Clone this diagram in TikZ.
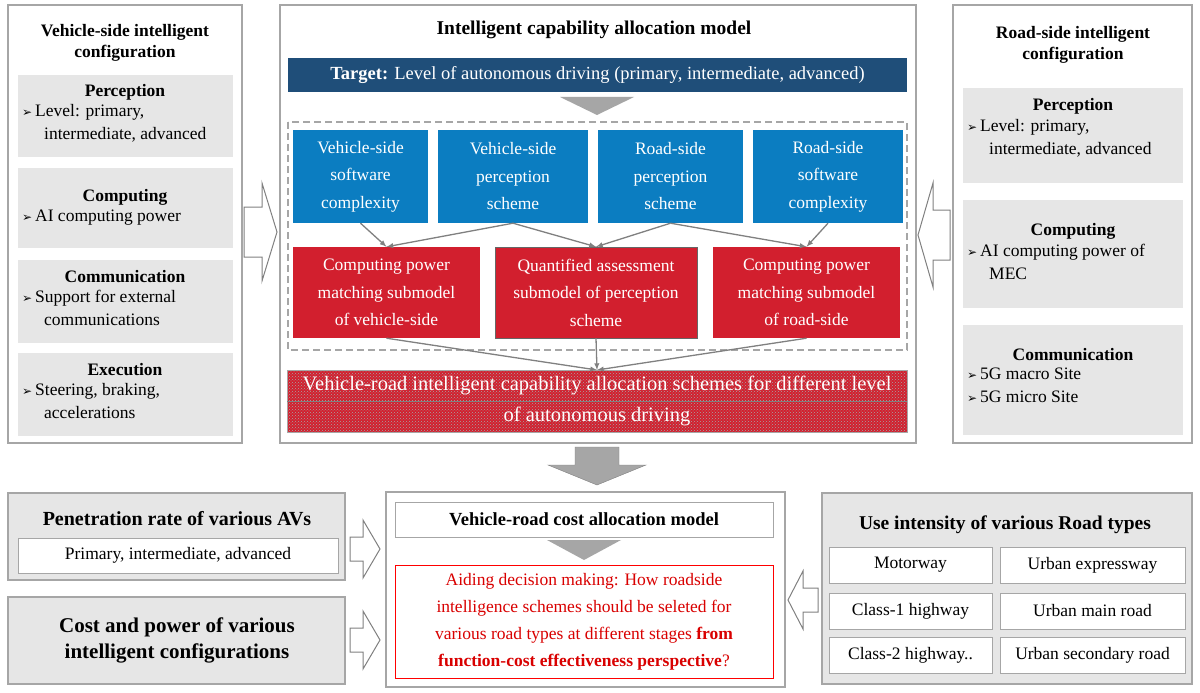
\documentclass[tikz,border=0pt]{standalone}
\usepackage{fontspec}
\setmainfont{Liberation Serif}
\newfontfamily\djv{DejaVu Sans}
\usetikzlibrary{patterns}
\definecolor{pgray}{HTML}{E6E6E6}
\definecolor{bord}{HTML}{A6A6A6}
\definecolor{dblue}{HTML}{1F4E79}
\definecolor{mblue}{HTML}{0B7DC1}
\definecolor{rred}{HTML}{D21F2E}
\definecolor{agray}{HTML}{808080}
\newcommand{\bul}{{\djv\fontsize{12}{14}\selectfont ➢}\,}
\begin{document}
\begin{tikzpicture}[x=1pt,y=-1pt,
  panel/.style={draw=bord,line width=1.2pt,fill=white},
  sub/.style={fill=pgray,draw=none},
  tt/.style={font=\bfseries\fontsize{17.5}{21}\selectfont,align=center},
  bt/.style={font=\fontsize{17.5}{23}\selectfont,align=left,anchor=north west,inner sep=0pt},
  wt/.style={font=\fontsize{17.5}{27.5}\selectfont,align=center,text=white},
  cell/.style={draw=bord,fill=white,font=\fontsize{17.5}{21}\selectfont},
  con/.style={draw=agray,line width=1.3pt,-latex},
  hol/.style={draw=agray,fill=white,line width=1pt},
]
\useasboundingbox (0,0) rectangle (1200,693);
% left panel
\draw[panel] (8,5) rectangle (242,443);
\node[tt] (lt) at (125,43) {Vehicle-side intelligent\\configuration};
\fill[sub] (18,75) rectangle (233,157); \fill[sub] (18,168) rectangle (233,248);
\fill[sub] (18,260) rectangle (233,343); \fill[sub] (18,353) rectangle (233,436);
\node[tt] (l1) at (125,92) {Perception};
\node[bt] (l1t) at (22,104) {\bul Level: primary,\\\hspace{22pt}intermediate, advanced};
\node[tt] (l2) at (125,197) {Computing};
\node[bt] (l2t) at (22,210) {\bul AI computing power};
\node[tt] (l3) at (125,277) {Communication};
\node[bt] (l3t) at (22,290) {\bul Support for external\\\hspace{22pt}communications};
\node[tt] (l4) at (125,370) {Execution};
\node[bt] (l4t) at (22,383) {\bul Steering, braking,\\\hspace{22pt}accelerations};
\draw[hol] (244,207) -- (262,207) -- (262,183) -- (277,232) -- (262,281) -- (262,257) -- (244,257) -- cycle;
% right panel
\draw[panel] (953,5) rectangle (1192,443);
\node[tt] (rt) at (1073,45) {Road-side intelligent\\configuration};
\fill[sub] (963,88) rectangle (1183,183); \fill[sub] (963,200) rectangle (1183,308);
\fill[sub] (963,325) rectangle (1183,435);
\node[tt] (r1) at (1073,106) {Perception};
\node[bt] (r1t) at (967,119) {\bul Level: primary,\\\hspace{22pt}intermediate, advanced};
\node[tt] (r2) at (1073,231) {Computing};
\node[bt] (r2t) at (967,244) {\bul AI computing power of\\\hspace{22pt}MEC};
\node[tt] (r3) at (1073,355) {Communication};
\node[bt] (r3t) at (967,368) {\bul 5G macro Site\\\bul 5G micro Site};
\draw[hol] (950,210) -- (933,210) -- (933,183) -- (918,235) -- (933,287) -- (933,260) -- (950,260) -- cycle;
% center panel
\draw[panel] (280,5) rectangle (916,443);
\node[tt,font=\bfseries\fontsize{19.5}{23}\selectfont] (ct) at (594,30) {Intelligent capability allocation model};
\node[fill=dblue,minimum width=619pt,minimum height=34pt,text=white,font=\fontsize{18.5}{22}\selectfont,inner sep=0pt] (tg) at (597.5,75) {\textbf{Target:} Level of autonomous driving (primary, intermediate, advanced)};
\fill[bord] (560,97) -- (634,97) -- (597,115) -- cycle;
\draw[bord,line width=1.2pt,dash pattern=on 7pt off 4pt] (288,122) rectangle (907,350);
\node[fill=mblue,minimum width=135pt,minimum height=93pt,wt,inner sep=0pt] (b1) at (360.5,176.5) {Vehicle-side\\software\\complexity};
\node[fill=mblue,minimum width=150pt,minimum height=93pt,wt,inner sep=0pt] (b2) at (513,176.5) {Vehicle-side\\perception\\scheme};
\node[fill=mblue,minimum width=145pt,minimum height=93pt,wt,inner sep=0pt] (b3) at (670.5,176.5) {Road-side\\perception\\scheme};
\node[fill=mblue,minimum width=150pt,minimum height=93pt,wt,inner sep=0pt] (b4) at (828,176.5) {Road-side\\software\\complexity};
\node[fill=rred,minimum width=187pt,minimum height=91pt,wt,inner sep=0pt] (c1) at (386.5,292.5) {Computing power\\matching submodel\\of vehicle-side};
\node[fill=rred,draw=black!60,minimum width=202pt,minimum height=91pt,wt,inner sep=0pt] (c2) at (596,292.5) {Quantified assessment\\submodel of perception\\scheme};
\node[fill=rred,minimum width=187pt,minimum height=91pt,wt,inner sep=0pt] (c3) at (806.5,292.5) {Computing power\\matching submodel\\of road-side};
\fill[rred] (287,370) rectangle (907,432);
\fill[pattern=crosshatch dots,pattern color=black!35] (287,370) rectangle (907,432);
\draw[bord] (287,370) rectangle (907,432);
\draw[black!50] (287,401) -- (907,401);
\node[wt,font=\fontsize{20.5}{31}\selectfont] (bar) at (597,401) {Vehicle-road intelligent capability allocation schemes for different level\\of autonomous driving};
\draw[con] (b1.south) -- (c1.north);
\draw[con] (b2.south) -- (c1.north);
\draw[con] (b2.south) -- (c2.north);
\draw[con] (b3.south) -- (c2.north);
\draw[con] (b3.south) -- (c3.north);
\draw[con] (b4.south) -- (c3.north);
\coordinate (bt) at (597,370);
\draw[con] (c1.south) -- (bt);
\draw[con] (c2.south) -- (bt);
\draw[con] (c3.south) -- (bt);
% big down arrow
\draw[fill=bord,draw=agray] (575,447) -- (619,447) -- (619,465) -- (646,465) -- (597,485) -- (548,465) -- (575,465) -- cycle;
% bottom center
\draw[panel] (386,492) rectangle (785,687);
\node[draw=bord,line width=1pt,minimum width=378pt,minimum height=35pt,tt,font=\bfseries\fontsize{18.5}{22}\selectfont] (vr) at (584,519.5) {Vehicle-road cost allocation model};
\fill[bord] (547,540) -- (621,540) -- (584,560) -- cycle;
\node[draw=red,line width=1pt,minimum width=378pt,minimum height=113pt,text=red!85!black,font=\fontsize{17.5}{27}\selectfont,align=center] (ad2) at (584,621.5) {Aiding decision making: How roadside\\intelligence schemes should be seleted for\\various road types at different stages \textbf{from}\\\textbf{function-cost effectiveness perspective}?};
% bottom left
\draw[panel,fill=pgray] (8,493) rectangle (345,580);
\node[tt,font=\bfseries\fontsize{20}{24}\selectfont] (pr) at (177,519) {Penetration rate of various AVs};
\node[cell,minimum width=320pt,minimum height=35pt] (prc) at (178,555.5) {Primary, intermediate, advanced};
\draw[panel,fill=pgray] (8,597) rectangle (345,684);
\node[tt,font=\bfseries\fontsize{21}{26}\selectfont] (cp) at (177,640) {Cost and power of various\\intelligent configurations};
\draw[hol] (350,537) -- (363,537) -- (363,520) -- (380,549) -- (363,578) -- (363,561) -- (350,561) -- cycle;
\draw[hol] (350,628) -- (363,628) -- (363,611) -- (380,640) -- (363,669) -- (363,652) -- (350,652) -- cycle;
% bottom right
\draw[panel,fill=pgray] (822,493) rectangle (1192,684);
\node[tt,font=\bfseries\fontsize{19.5}{23}\selectfont] (ui) at (1005,525) {Use intensity of various Road types};
\node[cell,minimum width=163pt,minimum height=36pt] (m1) at (910.5,565) {Motorway};
\node[cell,minimum width=185pt,minimum height=36pt] (m2) at (1092.5,565) {Urban expressway};
\node[cell,minimum width=163pt,minimum height=36pt] (m3) at (910.5,611) {Class-1 highway};
\node[cell,minimum width=185pt,minimum height=36pt] (m4) at (1092.5,611) {Urban main road};
\node[cell,minimum width=163pt,minimum height=36pt] (m5) at (910.5,655) {Class-2 highway..};
\node[cell,minimum width=185pt,minimum height=36pt] (m6) at (1092.5,655) {Urban secondary road};
\draw[hol] (818,588) -- (803,588) -- (803,571) -- (788,600) -- (803,629) -- (803,612) -- (818,612) -- cycle;
\end{tikzpicture}
\end{document}
